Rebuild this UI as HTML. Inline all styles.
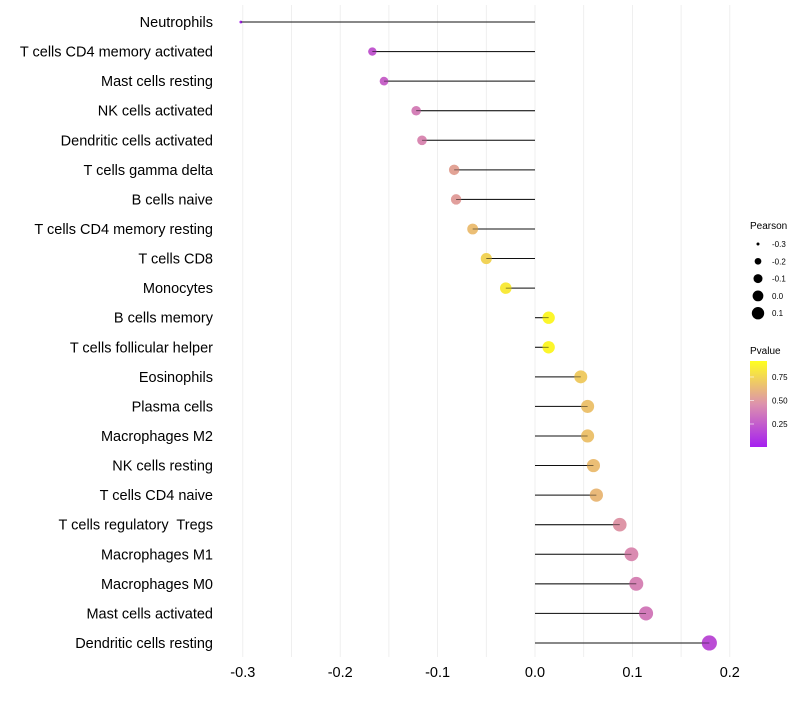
<!DOCTYPE html>
<html><head><meta charset="utf-8"><style>
body{margin:0;background:#fff;font-family:"Liberation Sans",Arial,sans-serif}
text{white-space:pre}
</style></head><body>
<svg id="chart" width="800" height="700" xmlns="http://www.w3.org/2000/svg" font-family="Liberation Sans, Arial, sans-serif">
<defs><linearGradient id="pg" x1="0" y1="1" x2="0" y2="0">
<stop offset="0" stop-color="#A51FF0"/><stop offset="0.5" stop-color="#DD92AD"/><stop offset="1" stop-color="#FFFF20"/></linearGradient></defs>
<g id="grid"></g><g id="marks"></g><g id="labels"></g>
<g>
<text x="750" y="229" font-size="10">Pearson</text>
</g>
<g>
<text x="750" y="354" font-size="10">Pvalue</text>
<rect x="750" y="361" width="17" height="86" fill="url(#pg)"/>
</g>
</svg>
<script>
const categories=["Neutrophils","T cells CD4 memory activated","Mast cells resting","NK cells activated","Dendritic cells activated","T cells gamma delta","B cells naive","T cells CD4 memory resting","T cells CD8","Monocytes","B cells memory","T cells follicular helper","Eosinophils","Plasma cells","Macrophages M2","NK cells resting","T cells CD4 naive","T cells regulatory  Tregs ","Macrophages M1","Macrophages M0","Mast cells activated","Dendritic cells resting"];
const pearson=[-0.302,-0.167,-0.155,-0.122,-0.116,-0.083,-0.081,-0.064,-0.050,-0.030,0.014,0.014,0.047,0.054,0.054,0.060,0.063,0.087,0.099,0.104,0.114,0.179];
const pvalues=[0.02,0.25,0.3,0.42,0.46,0.58,0.56,0.7,0.8,0.9,0.96,0.96,0.76,0.72,0.72,0.7,0.68,0.52,0.47,0.44,0.4,0.2];
const xTicks=[-0.3,-0.2,-0.1,0.0,0.1,0.2];
const xTickLabels=["-0.3","-0.2","-0.1","0.0","0.1","0.2"];
const sizeLegend=[-0.3,-0.2,-0.1,0.0,0.1];
const sizeLegendLabels=["-0.3","-0.2","-0.1","0.0","0.1"];
const pTicks=[0.25,0.5,0.75];
const pTickLabels=["0.25","0.50","0.75"];
const NS="http://www.w3.org/2000/svg";
const x=v=>535+v*974;
const y=i=>22+i*29.57;
const r=v=>Math.sqrt(Math.max(0.5,2.25+(v+0.3)*115));
const rl=v=>Math.sqrt(Math.max(0.5,2.25+(v+0.3)*90));
function col(p){const s=[[0,[165,31,240]],[0.5,[221,146,173]],[1,[255,255,32]]];
 let a=s[0],b=s[1];if(p>0.5){a=s[1];b=s[2];}const t=(p-a[0])/(b[0]-a[0]);
 return "rgb("+a[1].map((c,k)=>Math.round(c+(b[1][k]-c)*t)).join(",")+")";}
function mk(t,at,parent){const e=document.createElementNS(NS,t);for(const k in at)e.setAttribute(k,at[k]);parent.appendChild(e);return e;}
const grid=document.getElementById("grid"),marks=document.getElementById("marks"),labels=document.getElementById("labels");
for(let v=-0.3;v<=0.2001;v+=0.05){const l=mk("line",{x1:x(v),x2:x(v),y1:5,y2:657,stroke:"#ebebeb","stroke-width":0.8},grid);

}
xTicks.forEach((v,i)=>{const t=mk("text",{x:x(v),y:677,"font-size":14.5,"text-anchor":"middle",fill:"#000"},labels);t.textContent=xTickLabels[i];

});
categories.forEach((c,i)=>{
 const t=mk("text",{x:c.endsWith(" ")?217:213,y:y(i)+5,"font-size":14.5,"text-anchor":"end",fill:"#000"},labels);t.textContent=c;
 
 
 const ln=mk("line",{x1:x(0),x2:x(pearson[i]),y1:y(i),y2:y(i),stroke:"#222","stroke-width":1},marks);
 
 
 const ci=mk("circle",{cx:x(pearson[i]),cy:y(i),r:r(pearson[i]),fill:col(pvalues[i])},marks);
 
 
 const ln2=mk("line",{x1:x(0),x2:x(pearson[i]),y1:y(i),y2:y(i),stroke:"#000","stroke-width":0.8,"stroke-opacity":0.6},marks);
 
 
});
const svg=document.getElementById("chart");
sizeLegend.forEach((v,i)=>{const cy=244+i*17.3;
 const c=mk("circle",{cx:758,cy:cy,r:rl(v),fill:"#000"},svg);
 
 
 const t=mk("text",{x:772,y:cy+3,"font-size":8},svg);t.textContent=sizeLegendLabels[i];
 
 });
pTicks.forEach((p,i)=>{const py=446-(p-0.016)/(0.92-0.016)*85;
 const l=mk("line",{x1:750,x2:754,y1:py,y2:py,stroke:"#fff","stroke-width":0.6},svg);
 
 
 const t=mk("text",{x:772,y:py+3,"font-size":8},svg);t.textContent=pTickLabels[i];
 
 });
</script>
</body></html>
